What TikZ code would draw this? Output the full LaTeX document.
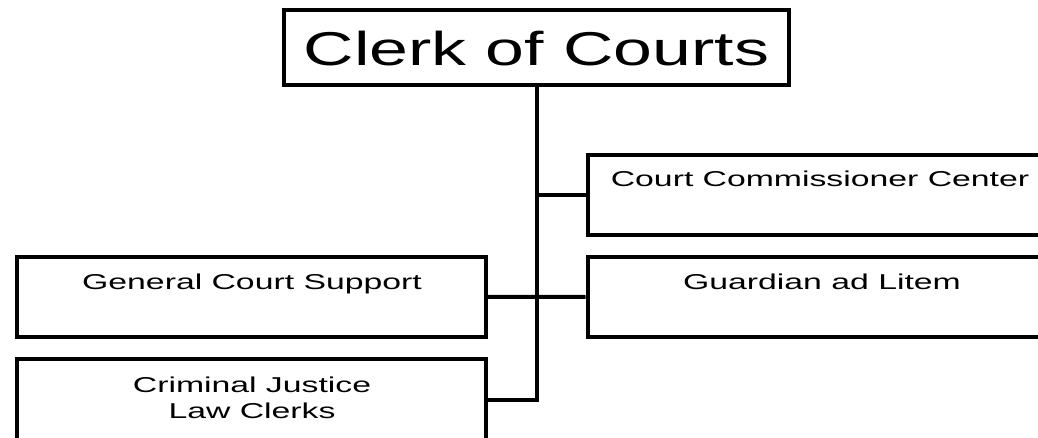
\documentclass[tikz,border=0pt]{standalone}
\usepackage{fontspec}
\setmainfont{Liberation Sans}
\newfontfamily\smallf[FakeStretch=1.57]{Liberation Sans}
\newfontfamily\bigf[FakeStretch=1.47]{Liberation Sans}
\begin{document}
\begin{tikzpicture}[x=1pt,y=-1pt,
  orgbox/.style={draw=black, line width=4pt, inner sep=0pt, fill=white},
  smalltxt/.style={inner sep=0pt, anchor=base, font=\smallf\fontsize{21.5}{26}\selectfont},
  bigtxt/.style={inner sep=0pt, anchor=base, font=\bigf\fontsize{47.5}{50}\selectfont},
  conn/.style={draw=black, line width=4pt, line join=miter}]
\useasboundingbox (0,0) rectangle (1038,438);
% boxes
\node[orgbox, minimum width=505pt, minimum height=75pt] (clerk) at (536.5,47.5) {};
\node[orgbox, minimum width=462.5pt, minimum height=80pt] (ccc) at (818.75,195) {};
\node[orgbox, minimum width=462.5pt, minimum height=80pt] (gal) at (818.75,297) {};
\node[orgbox, minimum width=468.5pt, minimum height=79.5pt] (gcs) at (251.25,296.75) {};
\node[orgbox, minimum width=468.5pt, minimum height=81pt] (cj) at (251.25,399.5) {};
% texts
\node[bigtxt] (clerkt) at (536.5,65.7) {Clerk of Courts};
\node[smalltxt] (ccct) at (820,187) {Court Commissioner Center};
\node[smalltxt] (galt) at (822,289) {Guardian ad Litem};
\node[smalltxt] (gcst) at (252,289) {General Court Support};
\node[smalltxt] (cjt1) at (252,392) {Criminal Justice};
\node[smalltxt] (cjt2) at (252,418) {Law Clerks};
% connectors
\draw[conn] (clerk.south) -- (clerk.south |- cj.east) -- (cj.east);
\draw[conn] (clerk.south |- ccc.west) -- (ccc.west);
\draw[conn] (gcs.east) -- (gal.west);
\end{tikzpicture}
\end{document}
